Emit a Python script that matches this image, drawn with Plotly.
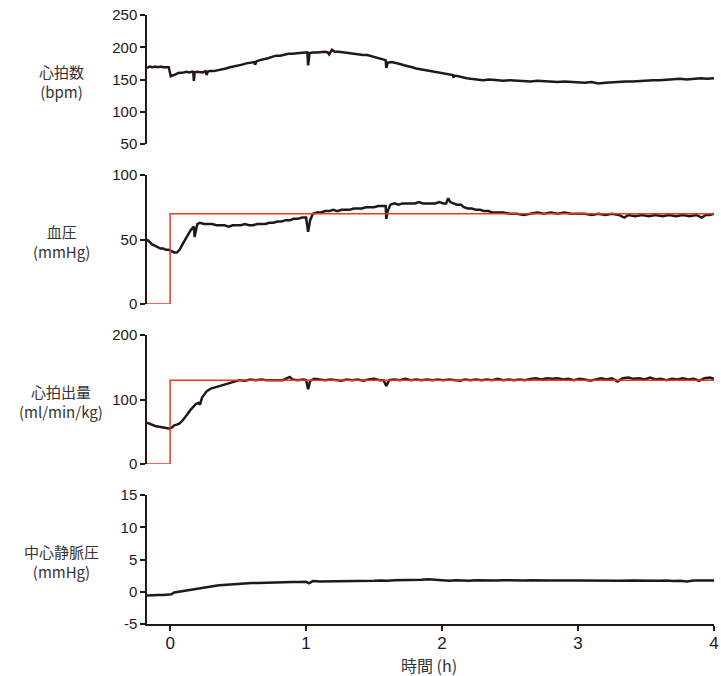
import plotly.graph_objects as go

# ---------------- data ----------------
hr_t = [-0.17, -0.15, -0.13, -0.11, -0.09, -0.07, -0.05, -0.03, -0.01, 0.005,
        0.02, 0.04, 0.06, 0.08, 0.1, 0.12, 0.14, 0.16, 0.17, 0.175,
        0.18, 0.2, 0.22, 0.24, 0.26, 0.27, 0.275, 0.29, 0.32, 0.35,
        0.38, 0.41, 0.44, 0.47, 0.5, 0.53, 0.56, 0.59, 0.62, 0.625,
        0.635, 0.66, 0.69, 0.72, 0.75, 0.78, 0.81, 0.84, 0.87, 0.9,
        0.93, 0.96, 0.99, 1.01, 1.015, 1.025, 1.05, 1.08, 1.11, 1.14,
        1.16, 1.17, 1.19, 1.21, 1.24, 1.27, 1.3, 1.33, 1.36, 1.39,
        1.42, 1.45, 1.48, 1.51, 1.54, 1.57, 1.585, 1.59, 1.6, 1.63,
        1.66, 1.69, 1.72, 1.75, 1.78, 1.81, 1.84, 1.87, 1.9, 1.93,
        1.96, 1.99, 2.02, 2.05, 2.08, 2.085, 2.09, 2.12, 2.15, 2.18,
        2.21, 2.24, 2.27, 2.3, 2.35, 2.4, 2.45, 2.5, 2.55, 2.6,
        2.65, 2.7, 2.75, 2.8, 2.85, 2.9, 2.95, 3.0, 3.05, 3.1,
        3.15, 3.2, 3.25, 3.3, 3.35, 3.4, 3.45, 3.5, 3.55, 3.6,
        3.65, 3.7, 3.75, 3.8, 3.85, 3.9, 3.95, 4.0]
hr_v = [168, 170, 169, 170, 169, 170, 169, 169, 169, 155,
        156, 158, 160, 160, 161, 162, 161, 162, 162, 148,
        161, 162, 162, 161, 163, 157, 162, 163, 163, 164,
        166, 167, 169, 170, 172, 173, 175, 176, 177, 173,
        178, 180, 181, 183, 185, 187, 187, 189, 190, 190,
        191, 191, 192, 192, 172, 191, 192, 192, 193, 193,
        192, 189, 196, 193, 193, 192, 192, 191, 190, 189,
        188, 188, 186, 184, 183, 181, 180, 168, 176, 177,
        176, 174, 172, 171, 169, 167, 166, 165, 164, 162,
        161, 160, 159, 158, 157, 153, 156, 155, 153, 152,
        151, 150, 150, 149, 150, 149, 148, 149, 148, 148,
        147, 148, 147, 147, 146, 147, 146, 146, 145, 146,
        144, 145, 146, 146, 147, 147, 148, 148, 149, 149,
        150, 150, 151, 150, 151, 152, 151, 152]

bp_t = [-0.17, -0.15, -0.13, -0.11, -0.09, -0.07, -0.05, -0.03, -0.01, 0.01,
        0.03, 0.05, 0.07, 0.09, 0.11, 0.13, 0.15, 0.165, 0.175, 0.18,
        0.19, 0.2, 0.22, 0.25, 0.28, 0.31, 0.34, 0.37, 0.4, 0.43,
        0.46, 0.49, 0.52, 0.55, 0.58, 0.61, 0.64, 0.67, 0.7, 0.73,
        0.76, 0.79, 0.82, 0.85, 0.88, 0.91, 0.94, 0.97, 1.0, 1.015,
        1.03, 1.05, 1.08, 1.11, 1.14, 1.17, 1.2, 1.23, 1.26, 1.29,
        1.32, 1.35, 1.38, 1.41, 1.44, 1.47, 1.5, 1.53, 1.56, 1.585,
        1.59, 1.6, 1.62, 1.65, 1.68, 1.71, 1.74, 1.77, 1.8, 1.83,
        1.86, 1.89, 1.92, 1.95, 1.98, 2.01, 2.03, 2.045, 2.06, 2.08,
        2.11, 2.14, 2.16, 2.19, 2.22, 2.25, 2.28, 2.31, 2.34, 2.37,
        2.4, 2.45, 2.5, 2.55, 2.6, 2.65, 2.7, 2.75, 2.8, 2.85,
        2.9, 2.95, 3.0, 3.05, 3.1, 3.15, 3.2, 3.25, 3.3, 3.34,
        3.37, 3.42, 3.47, 3.52, 3.57, 3.62, 3.67, 3.72, 3.77, 3.82,
        3.87, 3.91, 3.94, 3.97, 4.0]
bp_v = [50, 48, 46, 45, 44, 43, 43, 42, 42, 41,
        40, 40, 42, 46, 50, 54, 57, 59, 60, 52,
        58, 62, 63, 62, 62, 62, 61, 61, 61, 60,
        61, 61, 61, 62, 61, 61, 62, 62, 62, 63,
        63, 64, 64, 65, 65, 66, 66, 67, 67, 56,
        65, 70, 71, 71, 72, 72, 73, 72, 73, 73,
        73, 74, 74, 74, 75, 75, 75, 76, 76, 76,
        66, 72, 77, 78, 77, 78, 78, 78, 78, 79,
        78, 78, 78, 78, 79, 78, 78, 82, 79, 78,
        77, 77, 75, 74, 74, 73, 73, 72, 72, 71,
        71, 71, 70, 70, 69, 70, 71, 70, 71, 70,
        71, 70, 70, 70, 69, 70, 69, 70, 69, 67,
        69, 68, 69, 68, 69, 68, 69, 68, 69, 68,
        69, 67, 69, 69, 70]

co_t = [-0.17, -0.15, -0.13, -0.11, -0.09, -0.07, -0.05, -0.03, -0.01, 0.01,
        0.03, 0.05, 0.07, 0.09, 0.11, 0.13, 0.15, 0.17, 0.19, 0.21,
        0.22, 0.235, 0.25, 0.27, 0.3, 0.33, 0.36, 0.39, 0.42, 0.45,
        0.48, 0.51, 0.55, 0.59, 0.63, 0.67, 0.71, 0.75, 0.79, 0.83,
        0.86, 0.88, 0.9, 0.94, 0.98, 1.0, 1.015, 1.03, 1.06, 1.1,
        1.14, 1.18, 1.22, 1.26, 1.3, 1.34, 1.38, 1.42, 1.46, 1.5,
        1.54, 1.57, 1.59, 1.61, 1.65, 1.69, 1.73, 1.77, 1.81, 1.85,
        1.89, 1.93, 1.97, 2.01, 2.05, 2.09, 2.13, 2.17, 2.21, 2.25,
        2.29, 2.33, 2.37, 2.41, 2.45, 2.49, 2.53, 2.57, 2.61, 2.65,
        2.69, 2.73, 2.77, 2.81, 2.85, 2.89, 2.93, 2.97, 3.01, 3.05,
        3.09, 3.13, 3.17, 3.21, 3.25, 3.29, 3.33, 3.37, 3.41, 3.45,
        3.49, 3.53, 3.57, 3.61, 3.65, 3.69, 3.73, 3.77, 3.81, 3.85,
        3.89, 3.93, 3.97, 4.0]
co_v = [64, 62, 60, 59, 58, 57, 56, 55, 55, 56,
        60, 61, 63, 67, 72, 78, 84, 89, 93, 95,
        92, 103, 108, 113, 117, 119, 121, 123, 125, 127,
        128, 130, 129, 131, 130, 131, 130, 130, 131, 130,
        133, 135, 131, 130, 131, 130, 116, 129, 132, 131,
        130, 131, 130, 129, 131, 130, 131, 129, 131, 132,
        130, 130, 121, 130, 131, 130, 132, 130, 131, 130,
        131, 130, 131, 130, 131, 130, 129, 131, 130, 131,
        130, 131, 130, 132, 130, 131, 130, 131, 130, 132,
        133, 131, 133, 132, 133, 131, 132, 130, 132, 131,
        129, 131, 133, 131, 133, 128, 133, 134, 132, 133,
        131, 134, 131, 132, 130, 132, 131, 133, 131, 132,
        129, 133, 134, 132]

cvp_t = [-0.17, -0.13, -0.09, -0.05, -0.01, 0.01, 0.03, 0.06, 0.09, 0.12,
         0.15, 0.18, 0.21, 0.24, 0.27, 0.3, 0.33, 0.36, 0.39, 0.42,
         0.45, 0.48, 0.52, 0.56, 0.6, 0.65, 0.7, 0.75, 0.8, 0.85,
         0.9, 0.95, 1.0, 1.02, 1.05, 1.1, 1.15, 1.2, 1.25, 1.3,
         1.35, 1.4, 1.45, 1.5, 1.55, 1.6, 1.65, 1.7, 1.75, 1.8,
         1.85, 1.9, 1.93, 1.96, 2.0, 2.05, 2.1, 2.15, 2.2, 2.25,
         2.3, 2.35, 2.4, 2.45, 2.5, 2.55, 2.6, 2.65, 2.7, 2.75,
         2.8, 2.85, 2.9, 2.95, 3.0, 3.1, 3.2, 3.3, 3.4, 3.5,
         3.6, 3.65, 3.7, 3.75, 3.8, 3.85, 3.9, 3.95, 4.0]
cvp_v = [-0.6, -0.5, -0.5, -0.5, -0.5, -0.4, -0.1, 0.0, 0.1, 0.25,
         0.4, 0.5, 0.55, 0.7, 0.8, 0.85, 0.9, 1.0, 1.05, 1.1,
         1.15, 1.25, 1.3, 1.3, 1.35, 1.35, 1.4, 1.45, 1.4, 1.5,
         1.5, 1.5, 1.55, 1.3, 1.65, 1.6, 1.6, 1.65, 1.6, 1.65,
         1.6, 1.7, 1.65, 1.7, 1.75, 1.7, 1.8, 1.8, 1.75, 1.8,
         1.85, 1.95, 1.9, 1.75, 1.75, 1.7, 1.8, 1.75, 1.7, 1.8,
         1.75, 1.8, 1.75, 1.8, 1.75, 1.8, 1.75, 1.8, 1.75, 1.8,
         1.75, 1.75, 1.7, 1.75, 1.75, 1.7, 1.7, 1.7, 1.75, 1.7,
         1.7, 1.75, 1.65, 1.7, 1.6, 1.75, 1.7, 1.75, 1.75]

target_t = [-0.17, 0, 0, 4]
bp_target = [0, 0, 70, 70]
co_target = [0, 0, 130, 130]

panel_names = ["心拍数", "血圧", "心拍出量", "中心静脈圧"]
panel_units = ["(bpm)", "(mmHg)", "(ml/min/kg)", "(mmHg)"]
y_ranges = [[50, 250], [0, 100], [0, 200], [-5, 15]]
y_ticks = [[50, 100, 150, 200, 250], [0, 50, 100], [0, 100, 200], [-5, 0, 5, 10, 15]]
y_ticktext = [["50", "100", "150", "200", "250"], ["0", "50", "100"],
              ["0", "100", "200"], ["-5", "0", "5", "10", "15"]]
x_ticks = [0, 1, 2, 3, 4]
x_title = "時間 (h)"

# ---------------- style ----------------
BLACK = "#231815"
RED = "#e83828"
TXT = "#231815"
X_RANGE = [-0.17, 4]
PLOT_TOP, PLOT_BOTTOM, PLOT_LEFT, PLOT_RIGHT = 15, 624, 147, 714
PH = PLOT_BOTTOM - PLOT_TOP
PW = PLOT_RIGHT - PLOT_LEFT
panel_px = [(15, 144), (175, 304), (335, 464), (495, 624)]
domains = [[(PLOT_BOTTOM - b) / PH, (PLOT_BOTTOM - t) / PH] for t, b in panel_px]

fig = go.Figure()
series = [(hr_t, hr_v), (bp_t, bp_v), (co_t, co_v), (cvp_t, cvp_v)]
for i, (tt, vv) in enumerate(series):
    sfx = "" if i == 0 else str(i + 1)
    fig.add_trace(go.Scatter(x=tt, y=vv, mode="lines",
                             line=dict(color=BLACK, width=2.5),
                             xaxis="x" + sfx, yaxis="y" + sfx, showlegend=False))
for i, tv in [(1, bp_target), (2, co_target)]:
    sfx = str(i + 1)
    fig.add_trace(go.Scatter(x=target_t, y=tv, mode="lines",
                             line=dict(color=RED, width=1.5), cliponaxis=False,
                             xaxis="x" + sfx, yaxis="y" + sfx, showlegend=False))

layout = dict(
    template="none",
    width=721, height=676,
    margin=dict(l=PLOT_LEFT, r=721 - PLOT_RIGHT, t=PLOT_TOP, b=676 - PLOT_BOTTOM, pad=0),
    paper_bgcolor="white", plot_bgcolor="white",
    font=dict(family="Liberation Sans, Arial, sans-serif", color=TXT, size=15),
    showlegend=False,
)
for i in range(4):
    sfx = "" if i == 0 else str(i + 1)
    bottom = (i == 3)
    xa = dict(range=X_RANGE, domain=[0, 1], anchor="y" + sfx, automargin=False,
              showgrid=False, zeroline=False, fixedrange=True)
    if bottom:
        xa.update(showline=True, linecolor=BLACK, linewidth=1.5,
                  ticks="outside", ticklen=5, tickwidth=1.5, tickcolor=BLACK,
                  tickvals=x_ticks, tickfont=dict(size=17, color=TXT),
                  ticklabelstandoff=-2)
    else:
        xa.update(visible=False, matches="x4")
    ya = dict(range=y_ranges[i], domain=domains[i], anchor="x" + sfx,
              showgrid=False, zeroline=False, showline=True,
              linecolor=BLACK, linewidth=1.5, ticks="outside", ticklen=5,
              tickwidth=1.5, tickcolor=BLACK, tickvals=y_ticks[i],
              ticktext=y_ticktext[i],
              tickfont=dict(size=15, color=TXT), automargin=False)
    layout["xaxis" + sfx] = xa
    layout["yaxis" + sfx] = ya
fig.update_layout(**layout)

# y titles (horizontal, left, two lines)
title_x = (61 - PLOT_LEFT) / PW
for i in range(4):
    t, b = panel_px[i]
    mid = (t + b) / 2 + 2
    fig.add_annotation(text=panel_names[i] + "<br>" + panel_units[i],
                       xref="paper", yref="paper",
                       x=title_x, y=(PLOT_BOTTOM - mid) / PH,
                       xanchor="center", yanchor="middle", showarrow=False,
                       align="center",
                       font=dict(family="Noto Sans CJK JP, sans-serif", size=15, color="#333333"))

fig.add_annotation(text=x_title, xref="paper", yref="paper",
                   x=(429 - PLOT_LEFT) / PW, y=(PLOT_BOTTOM - 665) / PH,
                   xanchor="center", yanchor="middle", showarrow=False,
                   font=dict(family="Noto Sans CJK JP, sans-serif", size=16, color="#333333"))

fig.write_html("out.html")
